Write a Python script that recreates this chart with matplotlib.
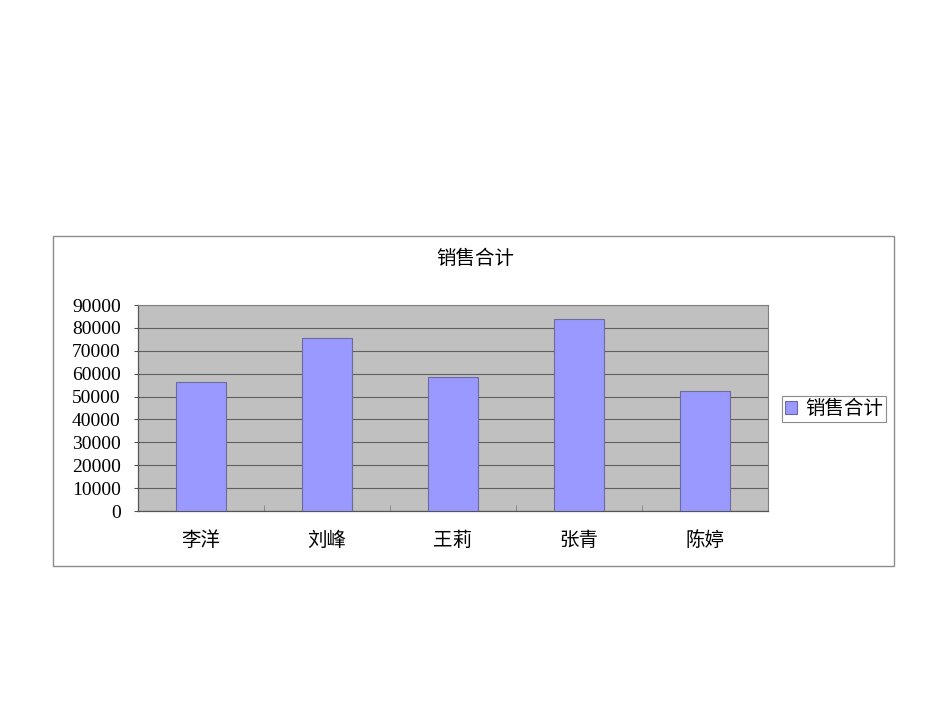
import numpy as np
import matplotlib.pyplot as plt
from matplotlib.patches import Rectangle
from matplotlib.ticker import FixedLocator

# Data
names = ['李洋', '刘峰', '王莉', '张青', '陈婷']
totals = [56400, 75600, 58500, 83900, 52400]
series_name = '销售合计'
y_ticks = list(range(0, 90001, 10000))

cjk = ['Noto Sans CJK SC', 'DejaVu Sans']
serif = ['Liberation Serif', 'DejaVu Serif']

W, H = 950, 713
fig = plt.figure(figsize=(W / 100, H / 100), dpi=100)

# Outer chart frame
fig.patches.append(Rectangle((53 / W, 1 - 566 / H), 841 / W, 330 / H,
                             transform=fig.transFigure, fill=False,
                             edgecolor='#8c8c8c', linewidth=1.0))

ax = fig.add_axes([138 / W, 1 - 511 / H, 630 / W, 206 / H])
ax.set_facecolor('#c0c0c0')

x = np.arange(len(names))
bars = ax.bar(x, totals, width=0.4, color='#9999ff', edgecolor='#6b6b9e',
              linewidth=0.8, label=series_name, zorder=3)

ax.set_xlim(-0.5, len(names) - 0.5)
ax.set_ylim(0, 90000)
ax.set_yticks(y_ticks)
ax.set_yticklabels([str(v) for v in y_ticks], family=serif, fontsize=14)
ax.yaxis.grid(True, color='#5f5f5f', linewidth=0.8, zorder=1)
ax.set_axisbelow(True)

ax.set_xticks(x)
ax.set_xticklabels(names, family=cjk, fontsize=14)
ax.tick_params(axis='x', which='major', length=0, pad=14)
ax.xaxis.set_minor_locator(FixedLocator(np.arange(0.5, len(names) - 0.5, 1)))
ax.tick_params(axis='x', which='minor', direction='in', length=4, color='#808080')
ax.tick_params(axis='y', length=3, color='#555555', pad=9.5)

for side in ['left', 'bottom']:
    ax.spines[side].set_color('#555555')
    ax.spines[side].set_linewidth(0.9)
for side in ['top', 'right']:
    ax.spines[side].set_color('#808080')
    ax.spines[side].set_linewidth(0.8)

fig.text(0.5, 1 - 258 / H, series_name, ha='center', va='center',
         family=cjk, fontsize=14)

leg = fig.legend(handles=[bars], labels=[series_name], loc='center left',
                 bbox_to_anchor=(782 / W, 1 - 409 / H), prop={'family': cjk, 'size': 14},
                 fancybox=False, framealpha=1, edgecolor='#8c8c8c',
                 handlelength=0.6, handleheight=0.6, handletextpad=0.45,
                 borderpad=0.15, borderaxespad=0)
leg.get_frame().set_linewidth(0.8)

fig.savefig('out.png', dpi=100)
